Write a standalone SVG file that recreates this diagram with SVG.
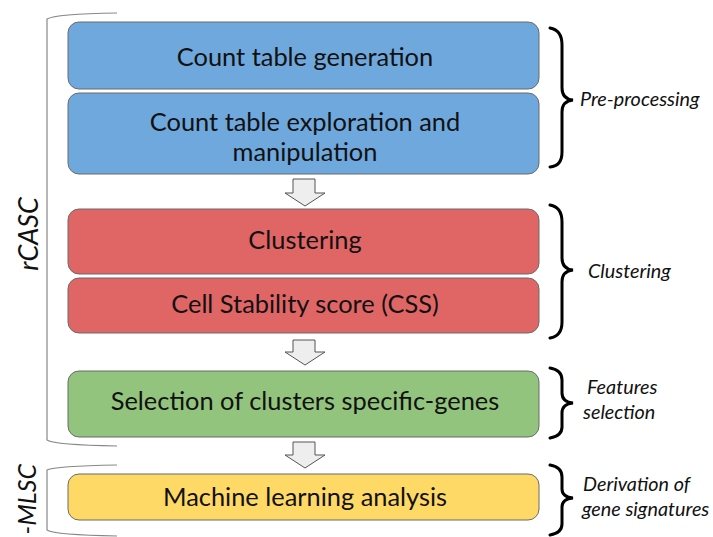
<svg xmlns="http://www.w3.org/2000/svg" width="713" height="537" viewBox="0 0 713 537">
  <defs>
    <style>
      .box { stroke: #6b6b6b; stroke-width: 1; }
      .blue { fill: #6fa8dc; }
      .red { fill: #e06666; }
      .green { fill: #93c47d; }
      .yellow { fill: #ffd966; }
      .label { font-family: Lato, "Liberation Sans", sans-serif; font-size: 25.4px; fill: #111; text-anchor: middle; }
      .side { font-family: Lato, "Liberation Sans", sans-serif; font-size: 19.8px; font-style: italic; fill: #111; }
      .group { font-family: Lato, "Liberation Sans", sans-serif; font-size: 27px; font-style: italic; fill: #111; }
      .brace { fill: none; stroke: #000; stroke-width: 3; stroke-linecap: round; }
      .bracket { fill: none; stroke: #888; stroke-width: 1.2; }
      .arrow { fill: #eeeeee; stroke: #555; stroke-width: 1; stroke-linejoin: miter; }
    </style>
  </defs>

  <!-- left group brackets -->
  <g id="rcasc">
    <path class="bracket" d="M117,13 Q55,14 47,19 L47,440 Q55,445 117,446"/>
    <text class="group" transform="translate(38,234) rotate(-90)" text-anchor="middle">rCASC</text>
  </g>
  <g id="mlsc">
    <path class="bracket" d="M117,465 Q55,466 47,470 L47,530 Q55,535 117,536"/>
    <text class="group" transform="translate(36,464) rotate(-90)" text-anchor="end" style="font-size:25px">-MLSC</text>
  </g>

  <!-- process steps -->
  <g id="count-table-generation">
    <rect class="box blue" x="68" y="22" width="471" height="67" rx="11"/>
    <text class="label" x="305" y="66">Count table generation</text>
  </g>
  <g id="count-table-exploration">
    <rect class="box blue" x="68" y="93" width="471" height="81" rx="11"/>
    <text class="label" x="305" y="131">Count table exploration and</text>
    <text class="label" x="305" y="161">manipulation</text>
  </g>
  <g id="clustering">
    <rect class="box red" x="68" y="209" width="471" height="65" rx="11"/>
    <text class="label" x="305" y="249">Clustering</text>
  </g>
  <g id="cell-stability">
    <rect class="box red" x="68" y="278" width="471" height="55" rx="11"/>
    <text class="label" x="305" y="313">Cell Stability score (CSS)</text>
  </g>
  <g id="selection">
    <rect class="box green" x="68" y="371" width="471" height="66" rx="11"/>
    <text class="label" x="305" y="410">Selection of clusters specific-genes</text>
  </g>
  <g id="machine-learning">
    <rect class="box yellow" x="68" y="474" width="471" height="46" rx="11"/>
    <text class="label" x="305" y="506">Machine learning analysis</text>
  </g>

  <!-- connectors -->
  <g id="connectors">
    <path class="arrow" d="M293,179 L315,179 L315,193 L325,193 L305,206 L285,193 L293,193 Z"/>
    <path class="arrow" d="M293,340 L315,340 L315,352 L325,352 L305,365 L285,352 L293,352 Z"/>
    <path class="arrow" d="M293,442 L315,442 L315,455 L325,455 L305,468 L285,455 L293,455 Z"/>
  </g>

  <!-- stage braces -->
  <g id="pre-processing">
    <path class="brace" d="M550,28 Q562,30 562,45 L562,88 Q562,99 573,100 Q562,101 562,112 L562,152 Q562,166 550,167"/>
    <text class="side" x="580" y="106">Pre-processing</text>
  </g>
  <g id="clustering-stage">
    <path class="brace" d="M550,205 Q562,207 562,222 L562,258 Q562,269 573,270 Q562,271 562,282 L562,322 Q562,336 550,338"/>
    <text class="side" x="588" y="278">Clustering</text>
  </g>
  <g id="features-selection">
    <path class="brace" d="M550,368 Q562,370 562,380 L562,393 Q562,402 573,403 Q562,404 562,413 L562,427 Q562,436 550,438"/>
    <text class="side" x="587" y="394">Features</text>
    <text class="side" x="583" y="419">selection</text>
  </g>
  <g id="gene-signatures">
    <path class="brace" d="M550,465 Q562,467 562,477 L562,489 Q562,497 573,498 Q562,499 562,507 L562,524 Q562,533 550,535"/>
    <text class="side" x="583" y="491">Derivation of</text>
    <text class="side" x="582" y="516">gene signatures</text>
  </g>
</svg>
